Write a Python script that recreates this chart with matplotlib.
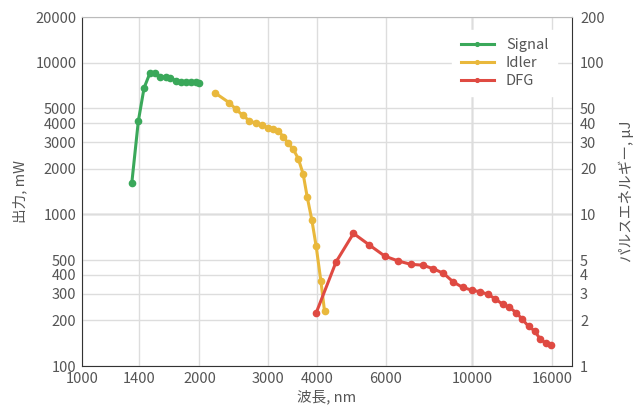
import matplotlib.pyplot as plt
from matplotlib.ticker import FixedLocator, NullLocator

plt.rcParams['font.family'] = ['Noto Sans CJK JP', 'DejaVu Sans']

# wavelength (nm) and output power (mW)
signal_x = [1341, 1394, 1442, 1494, 1539, 1585, 1642, 1681, 1742, 1794, 1848, 1904, 1960, 1995]
signal_y = [1603, 4125, 6826, 8590, 8510, 8080, 8040, 7960, 7600, 7485, 7450, 7450, 7450, 7400]

idler_x = [2190, 2386, 2483, 2583, 2685, 2795, 2894, 2999, 3083, 3182, 3282, 3375, 3482, 3586,
           3688, 3776, 3882, 3981, 4094, 4183]
idler_y = [6340, 5445, 4925, 4497, 4144, 3985, 3864, 3727, 3673, 3561, 3251, 2940, 2685, 2317,
           1845, 1308, 918, 619, 364, 231]

dfg_x = [3981, 4479, 4963, 5454, 5971, 6471, 6961, 7475, 7958, 8441, 8954, 9463, 9980, 10483,
         10966, 11450, 11960, 12460, 12968, 13413, 13945, 14446, 14934, 15480, 15970]
dfg_y = [224, 487, 750, 628, 531, 493, 469, 463, 438, 409, 358, 330, 317, 309,
         298, 278, 256, 244, 225, 205, 183, 171, 151, 141, 138]

x_ticks = [1000, 1400, 2000, 3000, 4000, 6000, 10000, 16000]
y_ticks = [100, 200, 300, 400, 500, 1000, 2000, 3000, 4000, 5000, 10000, 20000]
y2_ticks = [1, 2, 3, 4, 5, 10, 20, 30, 40, 50, 100, 200]

text_color = '#555555'
fs = 10.5

fig = plt.figure(figsize=(6.41, 4.17), dpi=100)
ax = fig.add_axes([0.128, 0.122, 0.764, 0.837])

ax.plot(signal_x, signal_y, color='#3aa85a', lw=2.2, marker='o', ms=4.5, label='Signal')
ax.plot(idler_x, idler_y, color='#e9b83c', lw=2.2, marker='o', ms=4.5, label='Idler')
ax.plot(dfg_x, dfg_y, color='#df4a42', lw=2.2, marker='o', ms=4.5, label='DFG')

ax.set_xscale('log')
ax.set_yscale('log')
ax.set_xlim(1000, 18000)
ax.set_ylim(100, 20000)

ax.xaxis.set_major_locator(FixedLocator(x_ticks))
ax.xaxis.set_minor_locator(NullLocator())
ax.set_xticklabels([str(t) for t in x_ticks])
ax.yaxis.set_major_locator(FixedLocator(y_ticks))
ax.yaxis.set_minor_locator(NullLocator())
ax.set_yticklabels([str(t) for t in y_ticks])

# light grid, with the decade lines a bit darker
ax.grid(True, color='#dddddd', lw=1)
ax.axvline(10000, color='#aaaaaa', lw=1, zorder=0.5)
ax.axhline(1000, color='#aaaaaa', lw=1, zorder=0.5)
ax.set_axisbelow(True)

ax.tick_params(length=0, labelsize=fs, colors=text_color, pad=4)
ax.spines['top'].set_color('#bbbbbb')
for side in ['left', 'bottom', 'right']:
    ax.spines[side].set_color('#333333')

ax.set_xlabel('波長, nm', fontsize=fs, color=text_color, labelpad=3)
ax.set_ylabel('出力, mW', fontsize=fs, color=text_color, labelpad=6)

ax2 = ax.twinx()
ax2.set_yscale('log')
ax2.set_ylim(1, 200)
ax2.yaxis.set_major_locator(FixedLocator(y2_ticks))
ax2.yaxis.set_minor_locator(NullLocator())
ax2.set_yticklabels([str(t) for t in y2_ticks])
ax2.tick_params(length=0, labelsize=fs, colors=text_color, pad=6)
ax2.set_ylabel('パルスエネルギー, μJ', fontsize=fs, color=text_color, labelpad=10)
for s in ax2.spines.values():
    s.set_visible(False)

leg = ax.legend(loc='upper right', bbox_to_anchor=(0.985, 0.985), frameon=True, fontsize=fs,
                handlelength=2.3, handletextpad=0.8, markerscale=0.6, labelspacing=0.25,
                borderpad=0.6)
leg.get_frame().set_edgecolor('white')
leg.get_frame().set_facecolor('white')
leg.get_frame().set_alpha(1)
for t in leg.get_texts():
    t.set_color(text_color)

fig.savefig('out.png', dpi=100)
